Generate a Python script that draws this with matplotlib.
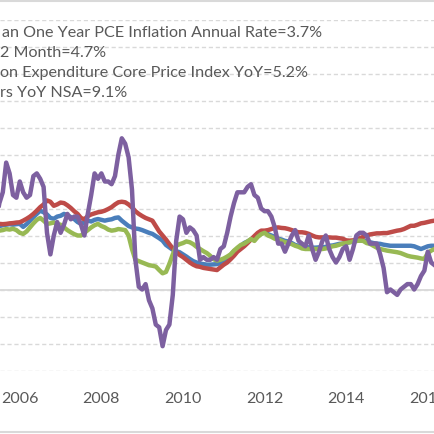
import matplotlib.pyplot as plt
from matplotlib.lines import Line2D
import numpy as np

# monthly values, Jun 2005 .. Mar 2016
start_year, start_month = 2005, 6

trimmed_pce = [
    2.30, 2.35, 2.38, 2.40, 2.42, 2.40, 2.42,
    2.43, 2.32, 2.42, 2.55, 2.68, 2.80, 2.92, 2.86, 2.78, 2.65, 2.62, 2.70,
    2.73, 2.80, 2.75, 2.68, 2.61, 2.50, 2.43, 2.48, 2.55, 2.52, 2.58, 2.61,
    2.58, 2.55, 2.58, 2.60, 2.65, 2.67, 2.55, 2.45, 2.35, 2.30, 2.26, 2.24,
    2.20, 2.15, 2.10, 2.06, 1.98, 1.90, 1.81, 1.65, 1.56, 1.47, 1.42, 1.38,
    1.30, 1.22, 1.13, 1.05, 1.00, 0.96, 0.94, 0.92, 0.92, 0.93, 0.94, 0.98,
    1.05, 1.15, 1.28, 1.42, 1.50, 1.60, 1.72, 1.78, 1.85, 1.93, 2.00, 2.08,
    2.12, 2.05, 2.00, 1.95, 1.88, 1.85, 1.80, 1.78, 1.72, 1.65, 1.62, 1.60,
    1.58, 1.56, 1.55, 1.55, 1.56, 1.56, 1.58, 1.62, 1.63, 1.66, 1.69, 1.70,
    1.72, 1.75, 1.77, 1.80, 1.81, 1.82, 1.78, 1.75, 1.72, 1.70, 1.69, 1.66,
    1.64, 1.62, 1.62, 1.62, 1.62, 1.62, 1.62, 1.62, 1.60, 1.55, 1.50, 1.55,
    1.60, 1.62, 1.62,
]

median_cpi = [
    2.40, 2.43, 2.42, 2.43, 2.45, 2.46, 2.48,
    2.49, 2.55, 2.62, 2.70, 2.80, 2.92, 3.05, 3.15, 3.30, 3.25, 3.10, 3.15,
    3.22, 3.20, 3.12, 3.02, 2.90, 2.80, 2.65, 2.60, 2.72, 2.78, 2.82, 2.86,
    2.88, 2.92, 2.98, 3.05, 3.15, 3.23, 3.25, 3.23, 3.15, 3.04, 2.90, 2.80,
    2.72, 2.65, 2.60, 2.55, 2.35, 2.15, 2.00, 1.85, 1.68, 1.52, 1.40, 1.28,
    1.20, 1.10, 1.00, 0.92, 0.86, 0.84, 0.80, 0.78, 0.76, 0.74, 0.72, 0.82,
    0.92, 1.00, 1.12, 1.25, 1.40, 1.50, 1.60, 1.72, 1.85, 1.98, 2.10, 2.18,
    2.18, 2.20, 2.24, 2.28, 2.30, 2.28, 2.27, 2.24, 2.20, 2.15, 2.12, 2.12,
    2.10, 2.06, 2.00, 1.95, 1.93, 1.93, 1.93, 1.93, 1.92, 1.92, 1.90, 1.88,
    1.82, 1.81, 1.82, 1.85, 1.90, 1.95, 2.00, 2.04, 2.06, 2.08, 2.08, 2.09,
    2.09, 2.12, 2.15, 2.18, 2.20, 2.24, 2.30, 2.36, 2.36, 2.40, 2.45, 2.47,
    2.50, 2.53, 2.55,
]

core_pce = [
    2.15, 2.18, 2.20, 2.24, 2.22, 2.25, 2.20,
    2.10, 2.06, 2.15, 2.30, 2.45, 2.58, 2.65, 2.55, 2.43, 2.45, 2.48, 2.42,
    2.40, 2.30, 2.20, 2.12, 2.05, 2.00, 2.00, 2.10, 2.20, 2.30, 2.38, 2.43,
    2.35, 2.30, 2.22, 2.18, 2.20, 2.24, 2.22, 2.20, 2.00, 1.50, 1.10, 1.05,
    1.00, 0.95, 0.90, 0.88, 0.85, 0.72, 0.60, 0.65, 0.95, 1.30, 1.62, 1.68,
    1.72, 1.78, 1.75, 1.68, 1.58, 1.50, 1.42, 1.35, 1.25, 1.12, 1.07, 1.10,
    1.15, 1.22, 1.30, 1.44, 1.55, 1.65, 1.70, 1.78, 1.87, 1.80, 1.95, 2.05,
    2.10, 2.00, 1.95, 1.88, 1.85, 1.80, 1.75, 1.72, 1.68, 1.62, 1.58, 1.52,
    1.50, 1.50, 1.50, 1.50, 1.50, 1.50, 1.52, 1.56, 1.60, 1.62, 1.66, 1.70,
    1.72, 1.75, 1.78, 1.80, 1.81, 1.80, 1.72, 1.69, 1.62, 1.55, 1.50, 1.47,
    1.44, 1.42, 1.40, 1.38, 1.35, 1.30, 1.25, 1.22, 1.20, 1.18, 1.15, 1.13,
    1.35, 1.44, 1.50,
]

cpi_nsa = [
    2.5, 3.2, 3.6, 4.7, 4.3, 3.5, 3.4,
    4.0, 3.6, 3.4, 3.5, 4.2, 4.3, 4.1, 3.8, 2.1, 1.3, 2.0, 2.5,
    2.1, 2.4, 2.8, 2.6, 2.7, 2.7, 2.4, 2.0, 2.8, 3.5, 4.3, 4.1,
    4.3, 4.0, 4.0, 3.9, 4.2, 5.0, 5.6, 5.4, 4.9, 3.7, 1.1, 0.1,
    0.0, 0.2, -0.4, -0.7, -1.3, -1.4, -2.1, -1.5, -1.3, -0.2, 1.8, 2.7,
    2.6, 2.1, 2.3, 2.2, 2.0, 1.1, 1.2, 1.1, 1.1, 1.2, 1.1, 1.5,
    1.6, 2.1, 2.7, 3.2, 3.6, 3.6, 3.6, 3.8, 3.9, 3.5, 3.4, 3.0,
    2.9, 2.9, 2.7, 2.3, 1.7, 1.7, 1.4, 1.7, 2.0, 2.2, 1.8, 1.7,
    1.6, 2.0, 1.5, 1.1, 1.4, 1.8, 2.0, 1.5, 1.2, 1.0, 1.2, 1.5,
    1.6, 1.1, 1.5, 2.0, 2.1, 2.1, 2.0, 1.7, 1.7, 1.7, 1.3, 0.8,
    -0.1, 0.0, -0.1, -0.2, 0.0, 0.1, 0.2, 0.2, 0.0, 0.2, 0.5, 0.7,
    1.4, 1.0, 0.9,
]

labels = [
    "an One Year PCE Inflation Annual Rate=3.7%",
    "2 Month=4.7%",
    "on Expenditure Core Price Index YoY=5.2%",
    "rs YoY NSA=9.1%",
]
colors = ["#4A7EBB", "#BE4B48", "#98B954", "#7D60A0"]
year_ticks = [2006, 2008, 2010, 2012, 2014, 2016]

n = len(cpi_nsa)
t = start_year + (start_month - 1) / 12 + np.arange(n) / 12

plt.rcParams['font.family'] = ['Lato', 'DejaVu Sans']

fig = plt.figure(figsize=(4.35, 4.35), dpi=100)
H = 435.0
ax = fig.add_axes([0, (H - 371.5) / H, 1, (371.5 - 20.5) / H])

for ys, c in zip([trimmed_pce, median_cpi, core_pce, cpi_nsa], colors):
    ax.plot(t, ys, color=c, lw=3.2, solid_joinstyle='round', zorder=3)

ax.set_xlim(2005.515, 2005.515 + 435 / 40.8)
ax.set_ylim(-3, 10)
ax.set_yticks(range(-3, 11))
ax.yaxis.grid(True, color='#D9D9D9', ls=(0, (3, 2)), lw=1.0)
ax.axhline(0, color='#D9D9D9', lw=1.3, zorder=2)
ax.set_axisbelow(True)
for s in ax.spines.values():
    s.set_visible(False)
ax.tick_params(axis='y', left=False, labelleft=False)
ax.set_xticks(year_ticks)
ax.set_xticklabels([str(y) for y in year_ticks])
ax.tick_params(axis='x', length=0, pad=15, labelsize=11.5, labelcolor='#595959')

for i, lab in enumerate(labels):
    fig.text(1.7 / H if i == 0 else 0, 1 - (36.7 + 20 * i) / H, lab,
             fontsize=11.6, color='#595959', va='baseline', ha='left')

# chart frame edges
for yy in [1.7, 433.3]:
    fig.add_artist(Line2D([0, 1], [1 - yy / H] * 2, color='#D9D9D9', lw=1.5))

fig.savefig('out.png', dpi=100)
